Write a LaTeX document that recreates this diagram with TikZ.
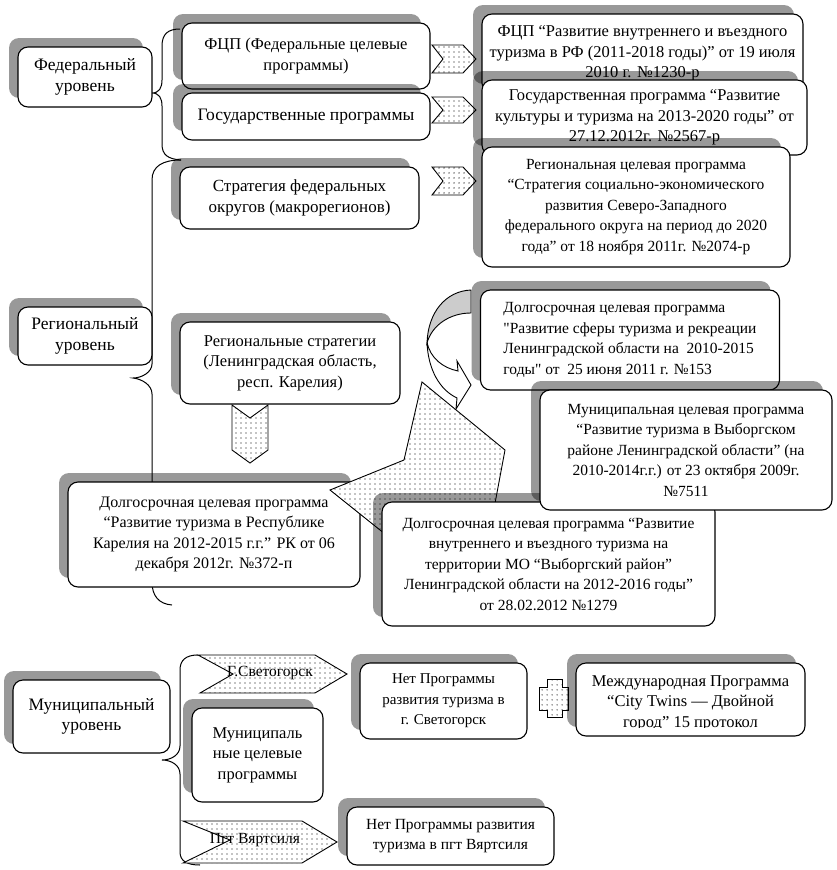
\documentclass[tikz,border=0pt]{standalone}
\usepackage{fontspec}
\setmainfont{Liberation Serif}
\newfontfamily\qfont{Liberation Serif}[Ligatures=TeXOff]
\usetikzlibrary{patterns.meta,shadows}
\tikzdeclarepattern{
  name=sdots,
  type=uncolored,
  bounding box={(0pt,0pt) and (4.5pt,4.5pt)},
  tile size={(4.5pt,4.5pt)},
  code={\pgfpathcircle{\pgfpoint{2.25pt}{2.25pt}}{0.7pt}\pgfusepath{fill}}
}
\newcommand\fsz[1]{\fontsize{#1}{20.5}\selectfont}
\newcommand\sq{{\qfont"}}
\begin{document}
\begin{tikzpicture}[x=1pt,y=-1pt,
  box/.style={draw, line width=1.1pt, rounded corners=10pt, fill=white,
    align=center, inner sep=0pt, font=\fsz{17},
    drop shadow={shadow xshift=-9pt, shadow yshift=9pt, fill=black, opacity=0.4}},
  bracel/.style={line width=1pt},
  dotf/.style={draw, line width=0.9pt, line join=miter, preaction={fill=white},
    pattern=sdots, pattern color=black},
  chevtext/.style={font=\fsz{15.5}, inner sep=0pt}]
\useasboundingbox (0,0) rectangle (837,870);

% ---------- braces ----------
\draw[bracel] (180,29) .. controls (168,29) and (162,34) .. (162,46) -- (162,80)
  .. controls (162,88) and (159,93) .. (152,93)
  .. controls (159,93) and (162,98) .. (162,106) -- (162,144)
  .. controls (162,155) and (168,159) .. (181,160);
\draw[bracel] (181,160) .. controls (163,160) and (152,166) .. (152,180) -- (152,364)
  .. controls (152,372) and (142,378) .. (133,378)
  .. controls (142,379) and (152,385) .. (152,394) -- (152,582)
  .. controls (152,596) and (159,604) .. (172,605);
\draw[bracel] (198,655) .. controls (186,655) and (180,660) .. (180,670) -- (180,746)
  .. controls (180,755) and (171,760) .. (162,760)
  .. controls (171,760) and (180,765) .. (180,774) -- (180,852)
  .. controls (180,861) and (187,865) .. (200,865);

% ---------- federal level ----------
\node[box, font=\fsz{17.5}, minimum width=134pt, minimum height=60pt] (fed) at (85,77)
  {Федеральный\\уровень};
\node[box, font=\fsz{16.5}, minimum width=248pt, minimum height=66pt] (fcp) at (306,56)
  {ФЦП (Федеральные целевые\\программы)};
\node[box, font=\fsz{17.5}, minimum width=248pt, minimum height=47pt] (gos) at (306,116.5)
  {Государственные программы};
\node[box, minimum width=239pt, minimum height=62pt] (strat) at (299.5,198)
  {Стратегия федеральных\\округов (макрорегионов)};

\draw[dotf] (432,45) -- (463,45) -- (476,59) -- (463,73) -- (432,73) -- (443,59) -- cycle;
\draw[dotf] (432,97) -- (463,97) -- (476,110) -- (463,123) -- (432,123) -- (443,110) -- cycle;
\draw[dotf] (432,167) -- (463,167) -- (476,181) -- (463,195) -- (432,195) -- (443,181) -- cycle;

\node[box, font=\fsz{16.5}, minimum width=321pt, minimum height=79pt] (r1) at (642.5,53.5)
  {ФЦП “Развитие внутреннего и въездного\\туризма в РФ (2011-2018 годы)” от 19 июля\\2010 г. №1230-р};
\node[box, font=\fsz{16.5}, minimum width=325pt, minimum height=75pt] (r2) at (644.5,117.5)
  {Государственная программа “Развитие\\культуры и туризма на 2013-2020 годы” от\\27.12.2012г. №2567-р};
\node[box, font=\fsz{15.5}, minimum width=308pt, minimum height=120pt] (r3) at (636,207)
  {Региональная целевая программа\\“Стратегия социально-экономического\\развития Северо-Западного\\федерального округа на период до 2020\\года” от 18 ноября 2011г. №2074-р};

% ---------- regional level ----------
\node[box, font=\fsz{17.5}, minimum width=134pt, minimum height=58pt] (reg) at (85,336)
  {Региональный\\уровень};
\node[box, font=\fsz{16.5}, minimum width=220pt, minimum height=82pt] (rstrat) at (290,363)
  {Региональные стратегии\\(Ленинградская область,\\респ. Карелия)};
\draw[dotf] (232,405) -- (250,418) -- (268,405) -- (268,450) -- (250,463) -- (232,450) -- cycle;

\node[box, font=\fsz{16}, minimum width=292pt, minimum height=105pt] (kar) at (214,534.5)
  {Долгосрочная целевая программа\\“Развитие туризма в Республике\\Карелия на 2012-2015 г.г.” РК от 06\\декабря 2012г. №372-п};

\node[box, font=\fsz{15.5}, minimum width=299pt, minimum height=100pt, align=left] (l1) at (630,340)
  {Долгосрочная целевая программа\\\sq Развитие сферы туризма и рекреации\\Ленинградской области на\ \ 2010-2015\\годы\sq{} от\ \ 25 июня 2011 г. №153};

% curved arrow
\draw[line width=0.9pt, fill=black!20] (471,290) .. controls (446,291) and (428,312) .. (427,343)
  .. controls (432,325) and (450,313) .. (471,313) -- cycle;
\draw[line width=0.9pt, fill=white, line join=miter] (427,342) .. controls (428,370) and (440,390) .. (457,398)
  -- (456,409) -- (471,385) -- (457,361) -- (458,371)
  .. controls (443,368) and (430,358) .. (427,342) -- cycle;

% big dotted callout
\draw[dotf] (422,382) -- (505,450) -- (490,530) -- (400,546) -- (330,490) -- (404,460) -- cycle;

\node[box, font=\fsz{15.5}, minimum width=333pt, minimum height=124pt] (v1) at (548.5,564)
  {Долгосрочная целевая программа “Развитие\\внутреннего и въездного туризма на\\территории МО “Выборгский район”\\Ленинградской области на 2012-2016 годы”\\от 28.02.2012 №1279};
\node[box, font=\fsz{15.5}, minimum width=292pt, minimum height=120pt] (m1) at (686,450)
  {Муниципальная целевая программа\\“Развитие туризма в Выборгском\\районе Ленинградской области” (на\\2010-2014г.г.) от 23 октября 2009г.\\№7511};

% ---------- municipal level ----------
\node[box, font=\fsz{17.5}, minimum width=157pt, minimum height=73pt] (mun) at (91.5,716.5)
  {Муниципальный\\уровень};

\draw[dotf] (198,655) -- (315,655) -- (347,674) -- (315,693) -- (200,693) -- (233,674) -- cycle;
\node[chevtext] (svt) at (270,673) {Г.Светогорск};
\node[box, font=\fsz{16.5}, minimum width=131pt, minimum height=94pt] (mcp) at (257.5,755)
  {Муниципаль\\ные целевые\\программы};
\draw[dotf] (183,821) -- (302,821) -- (337,842) -- (302,863) -- (183,863) -- (230,840) -- cycle;
\node[chevtext] (vrt) at (255,840) {Пгт Вяртсиля};

\node[box, font=\fsz{15}, minimum width=167pt, minimum height=76pt] (nsv) at (443.5,701)
  {Нет Программы\\развития туризма в\\г. Светогорск};
\draw[dotf] (547,679) -- (562,679) -- (562,687) -- (568,687) -- (568,710) -- (562,710)
  -- (562,717) -- (547,717) -- (547,710) -- (539,710) -- (539,687) -- (547,687) -- cycle;
\node[box, minimum width=229pt, minimum height=73pt] (ct) at (690.5,699.5) {};
\begin{scope}
  \clip (576,663) rectangle (805,727);
  \node[font=\fsz{16.5}, align=center, inner sep=0pt] (ctt) at (690.5,703)
    {Международная Программа\\“City Twins — Двойной\\город” 15 протокол};
\end{scope}
\node[box, font=\fsz{15.5}, minimum width=207pt, minimum height=58pt] (nvr) at (450.5,836)
  {Нет Программы развития\\туризма в пгт Вяртсиля};
\end{tikzpicture}
\end{document}
